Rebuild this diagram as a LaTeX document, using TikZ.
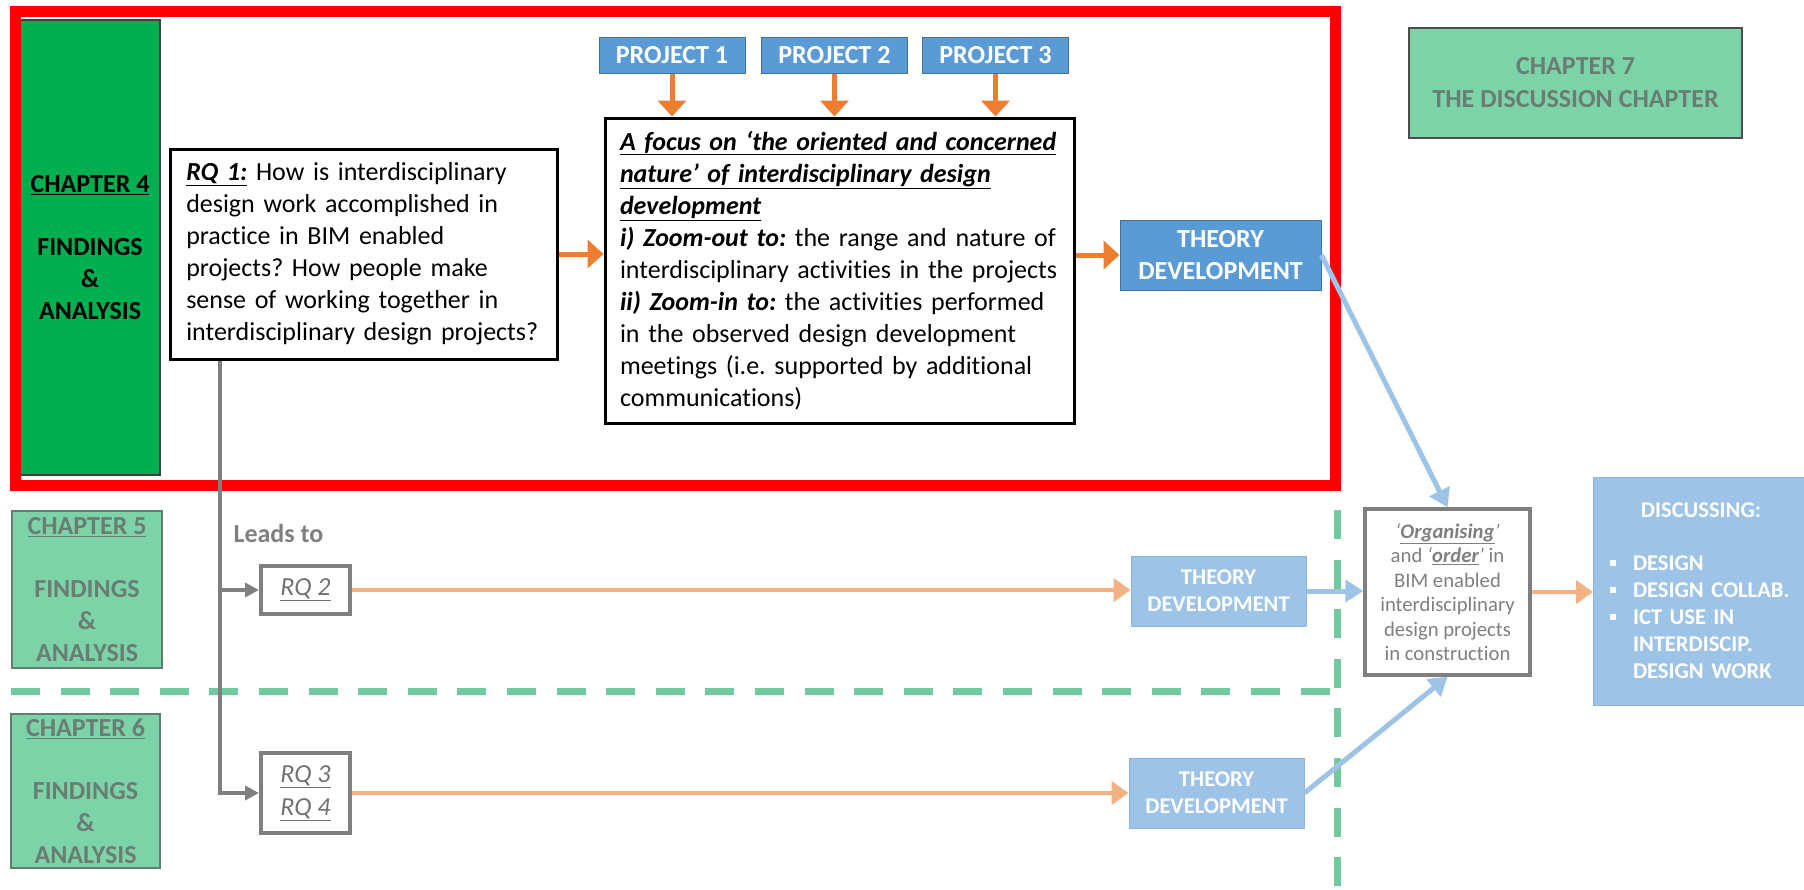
\documentclass[tikz,border=0pt]{standalone}
\usepackage{fontspec}
\setmainfont{Carlito}[Ligatures=NoCommon]
\usetikzlibrary{arrows.meta}
\frenchspacing

\definecolor{chapdark}{HTML}{00B050}
\definecolor{chaplight}{HTML}{7DD3A8}
\definecolor{chaptext}{HTML}{6A7D73}
\definecolor{chapedge}{HTML}{5F7F6F}
\definecolor{projblue}{HTML}{5B9BD5}
\definecolor{projedge}{HTML}{41719C}
\definecolor{paleblue}{HTML}{9DC3E6}
\definecolor{paleedge}{HTML}{8EB4DA}
\definecolor{darkorange}{HTML}{ED7D31}
\definecolor{paleorange}{HTML}{F4B183}
\definecolor{rqgray}{HTML}{7F7F7F}
\definecolor{dashgreen}{HTML}{6FCB9F}

\tikzset{
  darkchap/.style={draw=black!75,line width=1.2pt,fill=chapdark,text=black,align=center,inner sep=0pt,font=\bigfont\bfseries},
  lightchap/.style={draw=chapedge,line width=1.2pt,fill=chaplight,text=chaptext,align=center,inner sep=0pt,font=\bigfont\bfseries},
  projbox/.style={draw=projedge,line width=1pt,fill=projblue,text=white,inner sep=0pt,minimum width=146pt,minimum height=36pt,font=\bigfont\bfseries},
  textbox/.style={draw=black,line width=3pt,fill=white,align=left,inner ysep=0pt,font=\bigfont},
  theorydark/.style={draw=projedge,line width=1pt,fill=projblue,text=white,align=center,inner sep=0pt,minimum width=201pt,minimum height=70pt,font=\bigfont\bfseries},
  theorylight/.style={draw=paleedge,line width=1pt,fill=paleblue,text=white,align=center,inner sep=0pt,minimum width=175pt,minimum height=70pt,font=\midfont\bfseries},
  rqbox/.style={draw=rqgray,line width=4pt,fill=white,text=rqgray!90!black,align=center,inner sep=0pt,minimum width=89pt,font=\bigfont\itshape},
  orgbox/.style={draw=rqgray,line width=3.5pt,fill=white,text=rqgray,align=center,inner sep=0pt,font=\smallfont},
  discbox/.style={draw=paleedge,line width=1pt,fill=paleblue,text=white,align=left,inner sep=0pt,font=\midfont\bfseries},
  redframe/.style={draw=red,line width=11pt},
  greendash/.style={draw=dashgreen,line width=7pt,dash pattern=on 29pt off 20.6pt},
  orangearrow/.style={draw=darkorange,line width=5pt,-{Triangle[length=16pt,width=28pt]}},
  palearrow/.style={draw=paleorange,line width=4.5pt,-{Triangle[length=17pt,width=23pt]}},
  bluearrow/.style={draw=paleblue,line width=5pt,-{Triangle[length=18pt,width=22pt]}},
  grayarrow/.style={draw=rqgray,line width=4pt,-{Triangle[length=14pt,width=14pt]}}
}

\begin{document}
\begin{tikzpicture}[x=1pt,y=-1pt]
  % Khung va phong chu
  \useasboundingbox (0,0) rectangle (1804,889);
  \def\bigfont{\fontsize{26}{32}\selectfont}
  \def\midfont{\fontsize{22.5}{27}\selectfont}
  \def\smallfont{\fontsize{20.7}{24.5}\selectfont}
  \def\itm{\hspace*{3pt}\rule[4.5pt]{6pt}{6pt}\hspace{17pt}}

  % Duong ngan cach
  \draw[greendash] (11,691) -- (1334,691);
  \draw[greendash] (1337,510) -- (1337,889);

  % Chuong
  \node[darkchap,minimum width=140pt,minimum height=455pt] (ch4) at (90,247.5) {\underline{CHAPTER 4}\\[31pt]FINDINGS\\\&\\ANALYSIS};
  \node[lightchap,minimum width=150pt,minimum height=157pt] (ch5) at (87,589.5) {\underline{CHAPTER 5}\\[31pt]FINDINGS\\\&\\ANALYSIS};
  \node[lightchap,minimum width=149pt,minimum height=154pt] (ch6) at (85.5,791) {\underline{CHAPTER 6}\\[31pt]FINDINGS\\\&\\ANALYSIS};
  \node[lightchap,draw=black!70,minimum width=333pt,minimum height=110pt,font=\fontsize{26}{33}\selectfont\bfseries] (ch7) at (1575.5,83) {CHAPTER 7\\THE DISCUSSION CHAPTER};

  \draw[redframe] (15,11) rectangle (1335,485);

  % Chuong 4
  \node[textbox,text width=355pt,inner xsep=16pt,minimum height=210pt] (rq1) at (363.75,254) {\underline{\textbf{\textit{RQ 1:}}} How is interdisciplinary\\design work accomplished in\\practice in BIM enabled\\projects? How people make\\sense of working together in\\interdisciplinary design projects?};
  \node[projbox] (p1) at (672,55.5) {PROJECT 1};
  \node[projbox] (p2) at (834.5,55.5) {PROJECT 2};
  \node[projbox] (p3) at (995.5,55) {PROJECT 3};
  \node[textbox,text width=439pt,inner xsep=15pt,minimum height=305pt] (focus) at (839.5,270.5) {\underline{\textbf{\textit{A focus on ‘the oriented and concerned}}}\\\underline{\textbf{\textit{nature’ of interdisciplinary design}}}\\\underline{\textbf{\textit{development}}}\\\textbf{\textit{i) Zoom-out to:}} the range and nature of\\interdisciplinary activities in the projects\\\textbf{\textit{ii) Zoom-in to:}} the activities performed\\in the observed design development\\meetings (i.e. supported by additional\\communications)};
  \node[theorydark] (th1) at (1220.5,255) {THEORY\\DEVELOPMENT};

  % Chuong 5, 6 va 7
  \node[text=rqgray,font=\bigfont\bfseries] (leads) at (278.5,533) {Leads to};
  \node[rqbox,minimum height=48pt] (rq2) at (305.5,590) {\underline{RQ 2}};
  \node[rqbox,minimum height=80pt,font=\fontsize{26}{33}\selectfont\itshape] (rq34) at (305.5,793) {\underline{RQ 3}\\\underline{RQ 4}};
  \node[theorylight] (th2) at (1218.5,591) {THEORY\\DEVELOPMENT};
  \node[theorylight] (th3) at (1216.5,793) {THEORY\\DEVELOPMENT};
  \node[orgbox,minimum width=165pt,minimum height=166pt] (org) at (1447.5,592) {{\itshape‘\underline{\bfseries Organising}’}\\and {\itshape‘\underline{\bfseries order}’} in\\BIM enabled\\interdisciplinary\\design projects\\in construction};
  \node[discbox,anchor=west,minimum width=215pt,minimum height=228pt,text width=188pt] (disc) at (1593,591) {\makebox[188pt]{DISCUSSING:}\\[26pt]\itm DESIGN\\\itm DESIGN COLLAB.\\\itm ICT USE IN\\\hspace*{26pt}INTERDISCIP.\\\hspace*{26pt}DESIGN WORK};

  % Mui ten
  \draw[orangearrow] (rq1.east) -- (rq1.east -| focus.west);
  \foreach \p in {p1,p2,p3}
    \draw[orangearrow] (\p.south) -- (\p.south |- focus.north);
  \draw[orangearrow] (focus.east |- th1.west) -- (th1.west);
  \draw[grayarrow] (rq1.south west) ++(51,0) |- (rq2.west);
  \draw[grayarrow] (rq1.south west) ++(51,0) |- (rq34.west);
  \draw[palearrow] (rq2.east) -- (rq2.east -| th2.west);
  \draw[palearrow] (rq34.east) -- (rq34.east -| th3.west);
  \draw[bluearrow] (th1.east) -- (org.north);
  \draw[bluearrow] (th2.east) -- (th2.east -| org.west);
  \draw[bluearrow] (th3.east) -- (org.south);
  \draw[palearrow] (org.east) -- (org.east -| disc.west);
\end{tikzpicture}
\end{document}
